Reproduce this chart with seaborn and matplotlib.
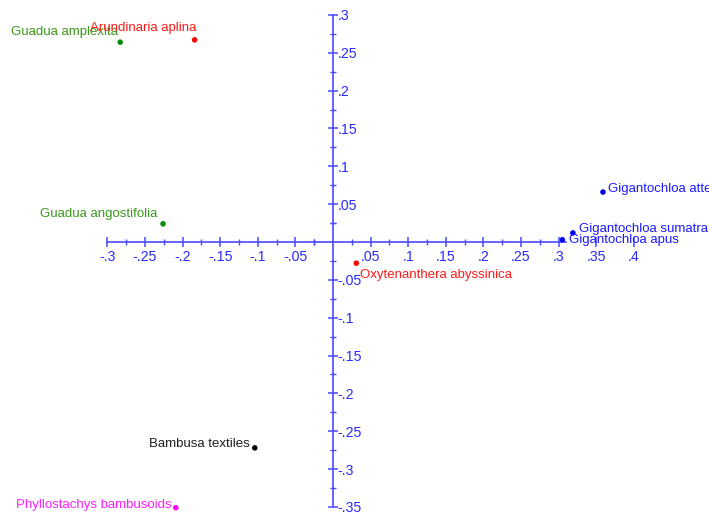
import matplotlib
matplotlib.use("Agg")
import matplotlib.pyplot as plt
import seaborn as sns
import pandas as pd
import numpy as np
from matplotlib.ticker import FixedLocator, FuncFormatter

species = ["Guadua amplexita", "Arundinaria aplina", "Guadua angostifolia",
           "Oxytenanthera abyssinica", "Gigantochloa atter", "Gigantochloa sumatra",
           "Gigantochloa apus", "Bambusa textiles", "Phyllostachys bambusoids"]
dim1 = [-0.283, -0.184, -0.226, 0.031, 0.359, 0.319, 0.305, -0.104, -0.209]
dim2 = [0.264, 0.267, 0.024, -0.028, 0.066, 0.012, 0.003, -0.272, -0.351]
group = ["g", "r", "g", "r", "b", "b", "b", "k", "m"]

x_ticks = [-0.3, -0.25, -0.2, -0.15, -0.1, -0.05, 0.05, 0.1, 0.15, 0.2, 0.25, 0.3, 0.35, 0.4]
y_ticks = [-0.35, -0.3, -0.25, -0.2, -0.15, -0.1, -0.05, 0.05, 0.1, 0.15, 0.2, 0.25, 0.3]

dot_colors = {"g": "#0a8a0a", "r": "#ff0000", "b": "#0000ee", "k": "#000000", "m": "#ff00ff"}
text_colors = {"g": "#3a9a1a", "r": "#ff1a1a", "b": "#1a1aff", "k": "#202020", "m": "#ff20ff"}
# label offsets in pixels (dx, dy, ha)
offsets = [(-2, 10, "right"), (2, 12, "right"), (-6, 10, "right"), (4, -12, "left"),
           (5, 3, "left"), (6, 4, "left"), (7, 0, "left"), (-5, 4, "right"), (-4, 3, "right")]

df = pd.DataFrame({"species": species, "x": dim1, "y": dim2, "group": group})

sns.set_style("white")
plt.rcParams["font.family"] = ["Liberation Sans", "DejaVu Sans"]

fig = plt.figure(figsize=(7.09, 5.17), dpi=100)
ax = fig.add_axes([0, 0, 1, 1])
sns.scatterplot(data=df, x="x", y="y", hue="group", palette=dot_colors, s=16,
                linewidth=0, legend=False, ax=ax, zorder=3)

for sp, xv, yv, g, (dx, dy, ha) in zip(species, dim1, dim2, group, offsets):
    ax.annotate(sp, (xv, yv), xytext=(dx * 0.72, dy * 0.72), textcoords="offset points",
                ha=ha, va="center", fontsize=9.5, color=text_colors[g], zorder=4)

xpx, ypx = 752, 757
ax.set_xlim(-333 / xpx, (709 - 333) / xpx)
ax.set_ylim(-(517 - 242) / ypx, 242 / ypx)

axis_col = "#4a4aff"
for s in ["left", "top"]:
    ax.spines[s].set_visible(False)
ax.spines["bottom"].set_position(("data", 0))
ax.spines["right"].set_position(("data", 0))
ax.spines["bottom"].set_bounds(-0.3, 0.31)
ax.spines["right"].set_bounds(-0.35, 0.3)
for s in ["bottom", "right"]:
    ax.spines[s].set_color(axis_col)
    ax.spines[s].set_linewidth(1.2)
    ax.spines[s].set_visible(True)

ax.yaxis.set_ticks_position("right")
ax.xaxis.set_ticks_position("bottom")
ax.xaxis.set_major_locator(FixedLocator(x_ticks))
ax.yaxis.set_major_locator(FixedLocator(y_ticks))
minor_x = [v + 0.025 for v in x_ticks if v + 0.025 <= 0.3] + [-0.025, 0.025]
minor_y = [v - 0.025 for v in y_ticks if v - 0.025 >= -0.35] + [-0.025, 0.025]
ax.xaxis.set_minor_locator(FixedLocator(minor_x))
ax.yaxis.set_minor_locator(FixedLocator(minor_y))

fmt = FuncFormatter(lambda v, p: ("%g" % v).replace("0.", "."))
ax.xaxis.set_major_formatter(fmt)
ax.yaxis.set_major_formatter(fmt)

ax.tick_params(which="major", direction="inout", length=7, width=1.1, color=axis_col,
               labelcolor="#2a2aff", labelsize=10.2, pad=2)
ax.tick_params(which="minor", direction="inout", length=5, width=1.0, color=axis_col)
ax.tick_params(axis="y", which="major", pad=0)

for t in ax.xaxis.get_major_ticks():
    if t.get_loc() > 0.31:
        t.tick1line.set_visible(False)

ax.set_xlabel("")
ax.set_ylabel("")
fig.savefig("out.png", dpi=100)
